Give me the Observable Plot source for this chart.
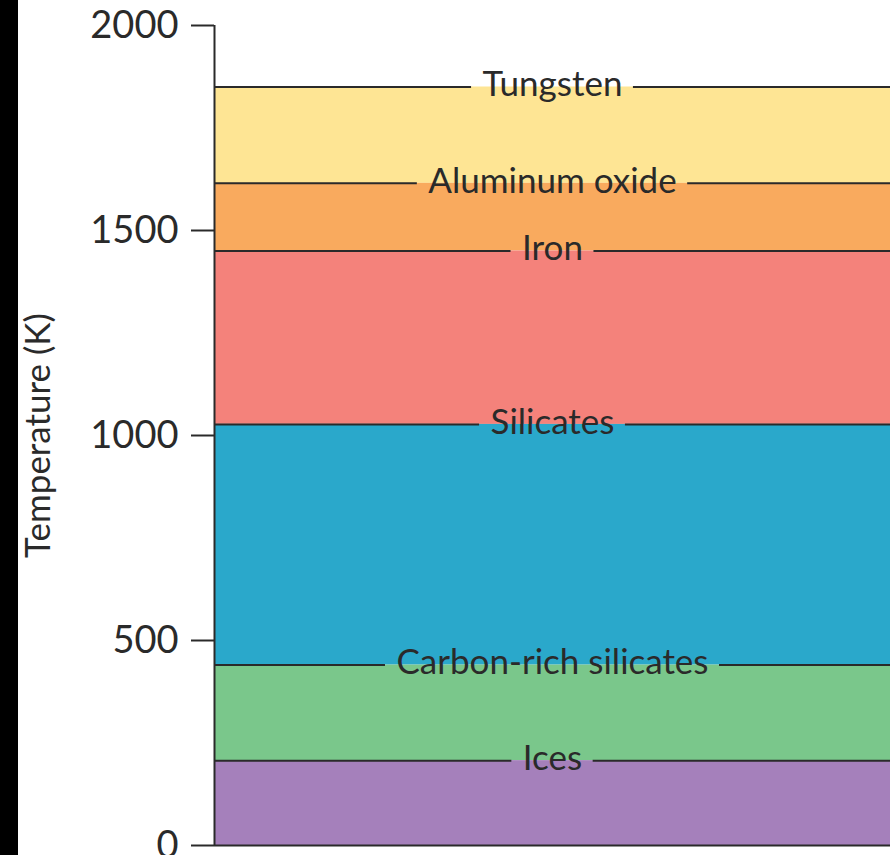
<!DOCTYPE html>
<html>
<head>
<meta charset="utf-8">
<script src="https://cdn.jsdelivr.net/npm/d3@7"></script>
<script src="https://cdn.jsdelivr.net/npm/@observablehq/plot@0.6"></script>
<style>
  html, body { margin: 0; padding: 0; }
  body { width: 895px; height: 855px; background: linear-gradient(to right, #000 18px, #fff 18px); overflow: hidden; }
  #chart svg { display: block; }
</style>
</head>
<body>
<div id="chart"></div>
<script>
const names = ["Tungsten", "Aluminum oxide", "Iron", "Silicates", "Carbon-rich silicates", "Ices"];
const temps = [1850, 1615, 1450, 1027, 440, 207];
const colors = ["#fee594", "#f9aa5e", "#f4827b", "#2aa8cb", "#7ac78b", "#a580bb"];
const yTicks = [0, 500, 1000, 1500, 2000];
const yLabel = "Temperature (K)";

const W = 895, H = 855, mL = 214, mR = 5, mT = 25, mB = 10;
const labelFont = 35, tickFont = 38, font = "Lato", weight = 400;
const ink = "#2a2a2a";
const plotW = W - mL - mR;

const bands = names.map((n, i) => ({
  name: n, top: temps[i], bottom: i + 1 < temps.length ? temps[i + 1] : 0, fill: colors[i]
}));

const ctx = document.createElement("canvas").getContext("2d");
ctx.font = `${weight} ${labelFont}px ${font}`;
const segments = [];
names.forEach((n, i) => {
  const g = (ctx.measureText(n).width / 2 + 11) / plotW;
  segments.push({y: temps[i], x1: 0, x2: 0.5 - g});
  segments.push({y: temps[i], x1: 0.5 + g, x2: 1});
});
const labels = names.map((n, i) => ({name: n, y: temps[i]}));

const chart = Plot.plot({
  width: W, height: H,
  marginLeft: mL, marginRight: mR, marginTop: mT, marginBottom: mB,
  x: {domain: [0, 1], axis: null},
  y: {domain: [0, 2000], axis: null},
  style: {background: "transparent", fontFamily: font, fontWeight: weight, color: ink, overflow: "visible"},
  marks: [
    Plot.rect(bands, {x1: 0, x2: 1, y1: "bottom", y2: "top", fill: "fill"}),
    Plot.ruleY(segments, {y: "y", x1: "x1", x2: "x2", stroke: ink, strokeWidth: 2}),
    Plot.ruleX([0], {stroke: ink, strokeWidth: 2}),
    Plot.ruleY([0], {stroke: ink, strokeWidth: 2}),
    Plot.axisY({ticks: yTicks, tickSize: 23, tickPadding: 13, fontSize: tickFont, fontWeight: weight, label: null, stroke: ink, strokeWidth: 2, fill: ink, tickFormat: d => String(d)}),
    Plot.text(labels, {x: 0.5, y: "y", text: "name", fontSize: labelFont, fontWeight: weight, fill: ink, lineAnchor: "middle", dy: -2}),
    Plot.text([yLabel], {frameAnchor: "left", textAnchor: "middle", dx: -176, rotate: -90, fontSize: 35, fontWeight: weight, fill: ink})
  ]
});
document.getElementById("chart").appendChild(chart);
</script>
</body>
</html>
